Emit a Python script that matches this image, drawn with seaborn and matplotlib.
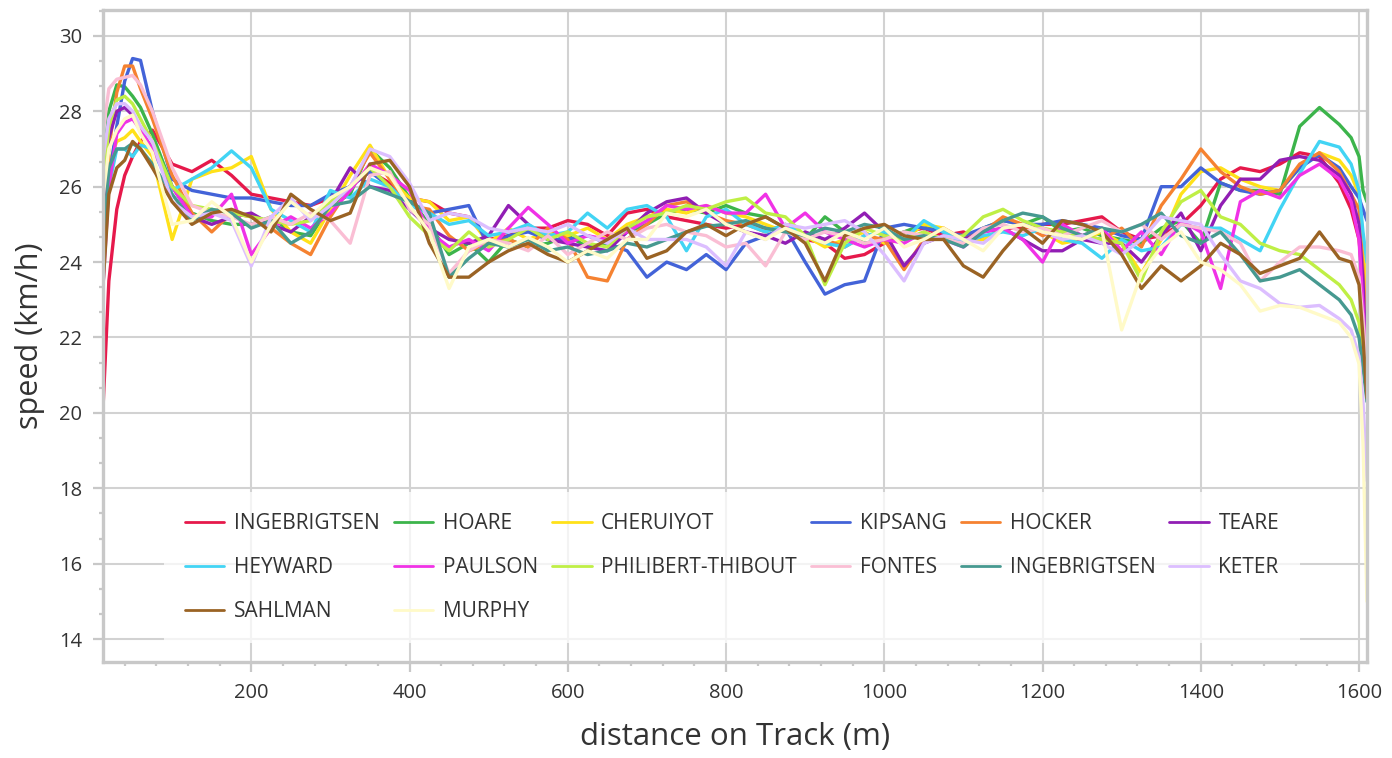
import pandas as pd
import matplotlib.pyplot as plt
import seaborn as sns
from matplotlib.ticker import MultipleLocator
from matplotlib.lines import Line2D

sns.set_theme(style="white")
plt.rcParams['font.family'] = ['Open Sans', 'DejaVu Sans']

# distanza campionata lungo la pista (m)
distance = [13, 20, 30, 40, 50, 60, 75,
            100, 125, 150, 175, 200, 225, 250, 275, 300, 325, 350, 375, 400,
            425, 450, 475, 500, 525, 550, 575, 600, 625, 650, 675, 700, 725, 750, 775, 800,
            825, 850, 875, 900, 925, 950, 975, 1000, 1025, 1050, 1075, 1100, 1125, 1150, 1175, 1200,
            1225, 1250, 1275, 1300, 1325, 1350, 1375,
            1400, 1425, 1450, 1475, 1500, 1525, 1550, 1575, 1590, 1600, 1605, 1610]

runners = ['INGEBRIGTSEN', 'HOARE', 'CHERUIYOT', 'KIPSANG', 'HOCKER', 'TEARE',
           'HEYWARD', 'PAULSON', 'PHILIBERT-THIBOUT', 'FONTES', 'INGEBRIGTSEN', 'KETER',
           'SAHLMAN', 'MURPHY']

colors = ['#e6194b', '#3cb44b', '#ffe119', '#4363d8', '#f58231', '#911eb4',
          '#42d4f4', '#f032e6', '#bfef45', '#fabed4', '#469990', '#dcbeff',
          '#9a6324', '#fffac8']

ingebrigtsen_1 = [20.3, 23.5, 25.4, 26.3, 26.8, 27.2, 27.5,
                  26.6, 26.4, 26.7, 26.3, 25.8, 25.7, 25.6, 25.5, 25.7, 26.0, 26.4, 26.1, 25.7,
                  25.6, 25.3, 25.2, 24.6, 24.7, 24.9, 24.9, 25.1, 25.0, 24.7, 25.3, 25.4, 25.2, 25.1, 25.0, 24.9,
                  25.0, 24.9, 24.8, 24.6, 24.5, 24.1, 24.2, 24.5, 24.8, 24.9, 24.7, 24.8, 24.6, 24.9, 24.9, 25.0,
                  25.0, 25.1, 25.2, 24.8, 24.6, 24.7, 25.0,
                  25.5, 26.2, 26.5, 26.4, 26.6, 26.9, 26.8, 26.1, 25.4, 24.6, 23.4, 21.5]
hoare = [26.5, 28.0, 28.7, 28.65, 28.4, 28.1, 27.4,
         26.0, 25.3, 25.1, 25.0, 25.0, 25.2, 24.8, 24.7, 25.5, 25.8, 27.0, 26.5, 25.7,
         25.0, 24.2, 24.5, 24.0, 24.6, 24.4, 24.5, 24.7, 24.4, 24.5, 24.8, 25.0, 25.3, 25.4, 25.3, 25.5,
         25.3, 25.2, 24.9, 24.6, 25.2, 24.8, 24.5, 24.6, 24.8, 25.0, 24.8, 24.6, 24.9, 25.1, 25.0, 25.2,
         24.8, 24.9, 24.7, 24.6, 24.5, 24.9, 25.1,
         24.5, 26.1, 25.9, 25.9, 25.8, 27.6, 28.1, 27.65, 27.3, 26.8, 25.9, 25.6]
cheruiyot = [25.5, 26.6, 27.2, 27.3, 27.5, 27.2, 26.8,
             24.6, 26.2, 26.4, 26.5, 26.8, 25.4, 24.8, 24.5, 25.4, 26.3, 27.1, 26.2, 25.7,
             25.6, 25.1, 25.2, 24.5, 24.9, 24.6, 24.8, 24.7, 24.9, 24.6, 25.0, 25.2, 25.4, 25.3, 25.5, 25.3,
             25.2, 25.0, 24.8, 24.7, 24.4, 24.6, 24.8, 24.5, 24.6, 25.0, 24.9, 24.5, 24.6, 24.9, 25.0, 24.8,
             24.5, 24.6, 24.8, 24.5, 23.7, 24.6, 25.8,
             26.4, 26.5, 26.2, 26.0, 25.9, 26.5, 26.9, 26.7, 26.3, 25.8, 24.6, 23.0]
kipsang = [25.0, 26.2, 27.6, 28.8, 29.4, 29.35, 28.0,
           26.2, 25.9, 25.8, 25.7, 25.7, 25.6, 25.5, 25.5, 25.8, 26.0, 26.4, 26.0, 25.6,
           25.3, 25.4, 25.5, 24.4, 24.7, 24.8, 24.6, 24.6, 24.7, 24.5, 24.3, 23.6, 24.0, 23.8, 24.2, 23.8,
           24.5, 24.7, 24.9, 24.0, 23.15, 23.4, 23.5, 24.9, 25.0, 24.9, 24.8, 24.7, 24.9, 25.1, 25.0, 25.0,
           25.1, 25.0, 24.9, 24.7, 24.6, 26.0, 26.0,
           26.5, 26.1, 25.9, 25.8, 25.9, 26.5, 26.85, 26.5, 26.0, 25.7, 25.4, 25.1]
hocker = [25.0, 27.0, 28.5, 29.2, 29.2, 28.6, 27.8,
          26.3, 25.3, 24.8, 25.3, 25.2, 24.9, 24.5, 24.2, 25.2, 26.0, 26.9, 26.2, 25.5,
          25.4, 24.7, 24.3, 24.5, 24.6, 24.4, 24.9, 24.6, 23.6, 23.5, 24.6, 25.0, 25.5, 25.6, 25.3, 25.1,
          25.0, 24.8, 25.0, 24.7, 24.6, 24.4, 24.7, 24.6, 23.8, 24.6, 24.9, 24.6, 24.8, 25.2, 25.0, 24.7,
          24.9, 24.7, 24.6, 24.9, 24.4, 25.5, 26.2,
          27.0, 26.4, 26.0, 25.8, 25.9, 26.6, 26.9, 26.4, 25.8, 25.4, 23.8, 22.0]
teare = [25.5, 27.3, 28.0, 28.1, 27.9, 27.5, 27.0,
         26.0, 25.2, 25.0, 25.2, 25.3, 25.0, 24.8, 25.2, 25.6, 26.5, 26.0, 25.9, 25.4,
         24.9, 24.6, 24.5, 24.7, 25.5, 25.0, 24.6, 24.5, 24.4, 24.3, 24.8, 25.3, 25.6, 25.7, 25.3, 25.0,
         24.8, 24.7, 24.5, 24.8, 24.6, 24.9, 25.3, 24.8, 23.9, 24.5, 24.7, 24.6, 24.8, 24.9, 24.6, 24.3,
         24.3, 24.6, 24.5, 24.5, 24.0, 24.7, 25.3,
         24.3, 25.5, 26.2, 26.2, 26.7, 26.8, 26.7, 26.3, 25.8, 25.0, 23.5, 21.0]
heyward = [24.5, 26.0, 27.0, 27.0, 26.8, 27.1, 27.0,
           25.9, 26.2, 26.5, 26.95, 26.5, 25.4, 25.1, 24.8, 25.9, 25.7, 26.2, 26.0, 25.5,
           25.3, 25.0, 25.1, 24.7, 24.8, 25.0, 24.7, 24.8, 25.3, 24.9, 25.4, 25.5, 25.2, 24.3, 25.2, 25.4,
           25.0, 24.8, 25.0, 24.7, 24.5, 24.4, 24.7, 24.8, 24.6, 25.1, 24.8, 24.5, 24.7, 24.8, 24.7, 24.9,
           24.6, 24.5, 24.1, 24.6, 24.3, 24.4, 25.0,
           24.9, 24.9, 24.6, 24.3, 25.4, 26.35, 27.2, 27.05, 26.6, 25.9, 24.8, 24.0]
paulson = [23.5, 26.0, 27.4, 27.7, 27.8, 27.5, 27.0,
           26.0, 25.2, 25.2, 25.8, 24.2, 24.9, 25.2, 24.9, 25.3, 25.9, 26.6, 26.3, 25.9,
           24.8, 24.4, 24.6, 24.3, 24.9, 25.45, 25.0, 24.5, 24.7, 24.6, 24.8, 25.1, 25.5, 25.4, 25.5, 25.3,
           25.3, 25.8, 24.9, 25.3, 24.8, 24.6, 24.4, 24.6, 24.5, 24.8, 24.6, 24.4, 24.8, 24.9, 24.6, 24.0,
           25.0, 24.7, 24.9, 24.3, 24.8, 24.2, 25.1,
           24.8, 23.3, 25.6, 25.9, 25.7, 26.3, 26.6, 26.2, 25.6, 24.6, 22.8, 20.8]
philibert_thibout = [26.0, 27.6, 28.3, 28.4, 28.2, 27.8, 27.2,
                     26.0, 25.5, 25.4, 25.3, 25.2, 25.1, 25.0, 25.1, 25.6, 26.0, 26.5, 26.0, 25.2,
                     24.7, 24.3, 24.8, 24.4, 24.6, 24.9, 24.6, 24.8, 24.5, 24.4, 24.9, 25.2, 25.3, 25.5, 25.4, 25.6,
                     25.7, 25.3, 25.2, 24.7, 23.4, 24.5, 24.9, 24.7, 24.6, 24.8, 24.6, 24.7, 25.2, 25.4, 25.1, 24.9,
                     24.8, 24.7, 24.6, 24.5, 23.5, 24.8, 25.6,
                     25.9, 25.2, 25.0, 24.5, 24.3, 24.2, 23.8, 23.4, 23.0, 22.4, 21.6, 20.5]
fontes = [27.5, 28.6, 28.85, 28.9, 28.95, 28.7, 28.0,
          26.5, 25.5, 25.3, 25.2, 25.0, 25.2, 25.0, 25.3, 25.1, 24.5, 26.3, 26.4, 25.4,
          25.0, 23.7, 24.3, 24.6, 24.5, 24.3, 24.7, 24.2, 24.5, 24.8, 24.6, 24.9, 25.0, 24.8, 24.7, 24.4,
          24.5, 23.9, 24.8, 24.6, 24.8, 24.7, 24.5, 24.6, 24.8, 24.7, 24.6, 24.5, 24.9, 25.0, 24.8, 24.9,
          24.7, 24.9, 25.1, 24.8, 25.0, 24.6, 25.0,
          24.9, 24.8, 24.5, 23.5, 24.0, 24.4, 24.4, 24.3, 24.2, 23.6, 22.5, 21.0]
ingebrigtsen_2 = [24.5, 26.5, 27.0, 27.0, 27.15, 27.0, 26.6,
                  25.8, 25.1, 25.4, 25.3, 24.9, 25.1, 24.5, 24.8, 25.5, 25.6, 26.0, 25.8, 25.6,
                  25.3, 23.6, 24.1, 24.5, 24.4, 24.6, 24.3, 24.4, 24.2, 24.3, 24.5, 24.4, 24.6, 24.8, 24.95, 25.0,
                  25.1, 24.9, 24.8, 24.7, 24.9, 24.8, 25.0, 24.9, 24.6, 24.7, 24.6, 24.4, 24.8, 25.1, 25.3, 25.2,
                  24.9, 24.7, 24.9, 24.8, 25.0, 25.3, 24.7,
                  24.5, 24.8, 24.2, 23.5, 23.6, 23.8, 23.4, 23.0, 22.6, 22.0, 21.2, 20.3]
keter = [26.8, 27.8, 28.2, 28.2, 28.0, 27.6, 27.2,
         25.6, 25.2, 25.3, 25.1, 23.9, 25.2, 25.7, 25.1, 25.5, 26.0, 27.0, 26.8, 26.1,
         25.1, 25.3, 25.2, 24.9, 24.8, 24.9, 24.8, 25.0, 24.7, 24.5, 24.9, 24.6, 24.6, 24.6, 24.4, 23.9,
         24.8, 24.6, 25.0, 24.9, 25.0, 25.1, 24.8, 24.2, 23.5, 24.5, 24.7, 24.6, 24.5, 24.9, 25.0, 24.8,
         24.6, 24.7, 24.5, 24.2, 24.6, 25.2, 25.1,
         25.0, 24.2, 23.5, 23.3, 22.9, 22.8, 22.85, 22.5, 22.2, 21.5, 20.3, 18.2]
sahlman = [23.5, 25.8, 26.5, 26.7, 27.2, 27.0, 26.5,
           25.6, 25.0, 25.3, 25.4, 25.2, 24.8, 25.8, 25.4, 25.1, 25.3, 26.6, 26.7, 26.0,
           24.5, 23.6, 23.6, 24.0, 24.3, 24.5, 24.2, 24.0, 24.3, 24.6, 24.9, 24.1, 24.3, 24.8, 25.0, 24.7,
           25.0, 25.2, 24.9, 24.5, 23.5, 24.7, 24.9, 25.0, 24.7, 24.6, 24.6, 23.9, 23.6, 24.3, 24.9, 24.5,
           25.1, 25.0, 24.8, 24.2, 23.3, 23.9, 23.5,
           23.9, 24.5, 24.2, 23.7, 23.9, 24.1, 24.8, 24.1, 24.0, 23.4, 22.0, 20.4]
murphy = [25.8, 27.0, 27.5, 27.8, 27.9, 27.4, 26.9,
          25.0, 25.1, 25.6, 25.2, 24.0, 25.0, 25.6, 25.2, 25.7, 26.0, 26.5, 26.3, 25.5,
          24.8, 23.3, 24.4, 24.6, 24.4, 24.65, 24.4, 24.0, 24.3, 24.1, 24.6, 24.6, 25.3, 25.2, 25.4, 25.0,
          24.8, 24.6, 24.9, 24.7, 24.5, 24.8, 24.6, 24.9, 24.4, 24.6, 24.9, 24.6, 24.3, 24.9, 25.0, 24.8,
          24.7, 24.6, 24.85, 22.2, 23.7, 24.4, 24.8,
          24.0, 23.8, 23.4, 22.7, 22.85, 22.8, 22.6, 22.4, 22.0, 21.3, 19.2, 15.0]

speeds = [ingebrigtsen_1, hoare, cheruiyot, kipsang, hocker, teare,
          heyward, paulson, philibert_thibout, fontes, ingebrigtsen_2, keter,
          sahlman, murphy]

# tabella lunga per seaborn (chiave unica: ci sono due INGEBRIGTSEN)
rows = []
for i, (name, vals) in enumerate(zip(runners, speeds)):
    assert len(vals) == len(distance), name
    for d, v in zip(distance, vals):
        rows.append({'key': f'{i:02d}_{name}', 'runner': name, 'distance': d, 'speed': v})
df = pd.DataFrame(rows)
keys = list(dict.fromkeys(df['key']))
palette = dict(zip(keys, colors))

fig, ax = plt.subplots(figsize=(13.92, 7.58), dpi=100)
fig.subplots_adjust(left=0.074, right=0.982, bottom=0.127, top=0.987)

sns.lineplot(data=df, x='distance', y='speed', hue='key', hue_order=keys,
             palette=palette, estimator=None, sort=False, linewidth=2.4,
             legend=False, ax=ax)

grey = '#c8c8c8'
ax.set_xlim(12.6, 1610)
ax.set_ylim(13.4, 30.69)
ax.xaxis.set_major_locator(MultipleLocator(200))
ax.xaxis.set_minor_locator(MultipleLocator(40))
ax.yaxis.set_major_locator(MultipleLocator(2))
ax.yaxis.set_minor_locator(MultipleLocator(2 / 3))
ax.grid(True, which='major', color='#d2d2d2', linewidth=1.5)
ax.set_axisbelow(True)
for s in ax.spines.values():
    s.set_color(grey)
    s.set_linewidth(2.4)
ax.tick_params(which='major', direction='out', length=7, width=1.6, color=grey,
               labelsize=14.5, labelcolor='#333333', pad=8)
ax.tick_params(which='minor', direction='out', length=3, width=1.6, color=grey)
ax.tick_params(axis='x', which='both', bottom=True)
ax.tick_params(axis='y', which='both', left=True)

ax.set_xlabel('distance on Track (m)', fontsize=22.5, color='#333333', labelpad=14)
ax.set_ylabel('speed (km/h)', fontsize=22, color='#333333', labelpad=10)

# legenda a 6 colonne, riempita per righe come nell'originale
order = [0, 6, 12, 1, 7, 13, 2, 8, 3, 9, 4, 10, 5, 11]
handles = [Line2D([0], [0], color=colors[i], lw=2) for i in order]
labels = [runners[i] for i in order]
leg = ax.legend(handles, labels, ncol=6, loc='upper left',
                bbox_to_anchor=(0.04, 0.276), frameon=True, fontsize=15,
                handlelength=1.9, handletextpad=0.45, columnspacing=0.68,
                labelspacing=1.1, borderpad=1.0, framealpha=0.75, fancybox=False)
leg.get_frame().set_facecolor('white')
leg.get_frame().set_edgecolor('none')
for t in leg.get_texts():
    t.set_color('#333333')

plt.savefig('out.png', dpi=100)
